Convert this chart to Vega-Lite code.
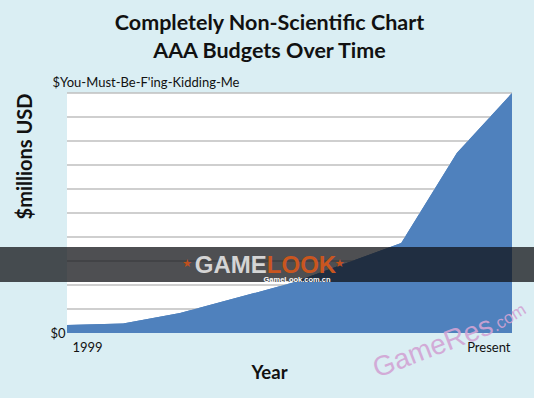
{
  "$schema": "https://vega.github.io/schema/vega-lite/v6.json",
  "width": 445,
  "height": 240,
  "autosize": {"type": "none"},
  "padding": {"left": 67, "top": 93, "right": 22, "bottom": 65},
  "background": "#daeef3",
  "config": {"view": {"fill": "white", "stroke": null}, "font": "Lato"},
  "title": {
    "text": ["Completely Non-Scientific Chart", "AAA Budgets Over Time"],
    "fontSize": 21.5,
    "fontWeight": "bold",
    "font": "Lato",
    "color": "#111111",
    "lineHeight": 28,
    "frame": "group",
    "dx": -20,
    "offset": 14
  },
  "datasets": {
    "budget": [
      {"t": 0, "budget": 0.33},
      {"t": 0.126, "budget": 0.4},
      {"t": 0.254, "budget": 0.83},
      {"t": 0.508, "budget": 2.1},
      {"t": 0.751, "budget": 3.75},
      {"t": 0.876, "budget": 7.5},
      {"t": 1, "budget": 10}
    ],
    "grid": [
      {"g": 1}, {"g": 2}, {"g": 3}, {"g": 4}, {"g": 5},
      {"g": 6}, {"g": 7}, {"g": 8}, {"g": 9}, {"g": 10}
    ],
    "band": [{"x0": -0.16, "x1": 1.06, "y0": 2.125, "y1": 3.583}],
    "game": [{"x": 0.449, "y": 2.5, "label": "GAME"}],
    "look": [{"x": 0.449, "y": 2.5, "label": "LOOK"}],
    "stars": [{"x": 0.27, "y": 2.875}, {"x": 0.613, "y": 2.875}],
    "url": [{"x": 0.517, "y": 2.14, "label": "GameLook.com.cn"}],
    "res": [{"x": 0.697, "y": -1.875, "label": "GameRes"}],
    "com": [{"x": 0.964, "y": 0.04, "label": ".com"}]
  },
  "layer": [
    {
      "data": {"name": "budget"},
      "mark": {"type": "area", "color": "#4f81bd", "interpolate": "linear"},
      "encoding": {
        "x": {
          "field": "t",
          "type": "quantitative",
          "scale": {"domain": [0, 1], "nice": false, "zero": false},
          "axis": {
            "title": "Year",
            "values": [0, 1],
            "labelExpr": "datum.value == 0 ? '1999' : 'Present'",
            "grid": false,
            "ticks": false,
            "domain": false,
            "labelFlush": false,
            "labelOverlap": false,
            "labelAlign": {"condition": {"test": "datum.value == 0", "value": "left"}, "value": "right"},
            "labelOffset": {"condition": {"test": "datum.value == 0", "value": 5}, "value": -2},
            "labelPadding": 8,
            "labelFontSize": 13,
            "labelColor": "#111111",
            "titleFontSize": 18.5,
            "titleFontWeight": "bold",
            "titleColor": "#111111",
            "titleX": 202,
            "titlePadding": 9
          }
        },
        "y": {
          "field": "budget",
          "type": "quantitative",
          "scale": {"domain": [0, 10], "nice": false},
          "axis": {
            "title": "$millions USD",
            "values": [0, 10],
            "labelExpr": "datum.value == 0 ? '$0' : datum.value == 10 ? \"$You-Must-Be-F'ing-Kidding-Me\" : ''",
            "ticks": false,
            "domain": false,
            "grid": false,
            "labelOverlap": false,
            "labelBound": false,
            "labelFlush": false,
            "labelLimit": 400,
            "labelAlign": {"condition": {"test": "datum.value == 10", "value": "left"}, "value": "right"},
            "labelPadding": {"condition": {"test": "datum.value == 10", "value": 15}, "value": 2},
            "labelBaseline": "middle",
            "labelOffset": {"condition": {"test": "datum.value == 10", "value": -11}, "value": 0},
            "labelFontSize": 13,
            "labelColor": "#111111",
            "titleFontSize": 20,
            "titleFontWeight": "bold",
            "titleColor": "#111111",
            "titleAnchor": "end",
            "titlePadding": 14
          }
        }
      }
    },
    {
      "data": {"name": "grid"},
      "mark": {"type": "rule", "color": "#bfbfbf", "strokeWidth": 1.5},
      "encoding": {
        "y": {"field": "g", "type": "quantitative"}
      }
    },
    {
      "data": {"name": "budget"},
      "mark": {"type": "area", "color": "#4f81bd", "interpolate": "linear"},
      "encoding": {
        "x": {"field": "t", "type": "quantitative"},
        "y": {"field": "budget", "type": "quantitative"}
      }
    },
    {
      "data": {"name": "band"},
      "mark": {"type": "rect", "color": "#101215", "opacity": 0.74},
      "encoding": {
        "x": {"field": "x0", "type": "quantitative"},
        "x2": {"field": "x1"},
        "y": {"field": "y0", "type": "quantitative"},
        "y2": {"field": "y1"}
      }
    },
    {
      "data": {"name": "game"},
      "mark": {"type": "text", "align": "right", "baseline": "alphabetic", "font": "Liberation Sans", "fontWeight": "bold", "fontSize": 24, "color": "#d4d4d4"},
      "encoding": {
        "x": {"field": "x", "type": "quantitative"},
        "y": {"field": "y", "type": "quantitative"},
        "text": {"field": "label"}
      }
    },
    {
      "data": {"name": "look"},
      "mark": {"type": "text", "align": "left", "baseline": "alphabetic", "font": "Liberation Sans", "fontWeight": "bold", "fontSize": 24, "color": "#c9561f"},
      "encoding": {
        "x": {"field": "x", "type": "quantitative"},
        "y": {"field": "y", "type": "quantitative"},
        "text": {"field": "label"}
      }
    },
    {
      "data": {"name": "stars"},
      "mark": {"type": "text", "text": "★", "align": "center", "baseline": "middle", "font": "DejaVu Sans", "fontSize": 11, "color": "#c0501e"},
      "encoding": {
        "x": {"field": "x", "type": "quantitative"},
        "y": {"field": "y", "type": "quantitative"}
      }
    },
    {
      "data": {"name": "url"},
      "mark": {"type": "text", "align": "center", "baseline": "alphabetic", "font": "Liberation Sans", "fontWeight": "bold", "fontSize": 7.5, "color": "#ffffff"},
      "encoding": {
        "x": {"field": "x", "type": "quantitative"},
        "y": {"field": "y", "type": "quantitative"},
        "text": {"field": "label"}
      }
    },
    {
      "data": {"name": "res"},
      "mark": {"type": "text", "align": "left", "baseline": "alphabetic", "font": "Liberation Sans", "fontSize": 28, "angle": 339, "color": "#d2a4d4", "opacity": 0.9},
      "encoding": {
        "x": {"field": "x", "type": "quantitative"},
        "y": {"field": "y", "type": "quantitative"},
        "text": {"field": "label"}
      }
    },
    {
      "data": {"name": "com"},
      "mark": {"type": "text", "align": "left", "baseline": "alphabetic", "font": "Liberation Sans", "fontSize": 17, "angle": 328, "color": "#d2a4d4", "opacity": 0.9},
      "encoding": {
        "x": {"field": "x", "type": "quantitative"},
        "y": {"field": "y", "type": "quantitative"},
        "text": {"field": "label"}
      }
    }
  ]
}
